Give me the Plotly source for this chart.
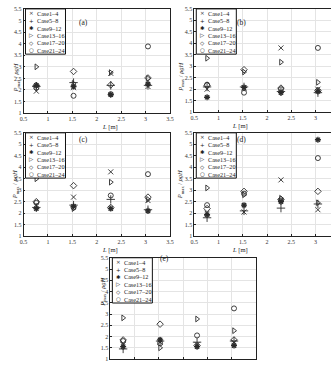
import plotly.graph_objects as go

W, H = 335, 366

L = [0.7625, 1.525, 2.2875, 3.05]
case_names = ["Case1–4", "Case5–8", "Case9–12", "Case13–16", "Case17–20", "Case21–24"]
panel_labels = ["(a)", "(b)", "(c)", "(d)", "(e)"]
y_ticks = [1, 1.5, 2, 2.5, 3, 3.5, 4, 4.5, 5, 5.5]
x_ticks = [0.5, 1, 1.5, 2, 2.5, 3, 3.5]

# P_max / rho g H values, per panel, per case group
a_vals = [
    [1.95, 2.10, 2.72, 2.15],
    [2.15, 2.32, 2.20, 2.20],
    [2.20, 2.15, 1.80, 2.25],
    [3.00, 2.28, 2.75, 2.50],
    [2.20, 2.80, 2.22, 2.52],
    [2.10, 1.75, 1.82, 3.88],
]
b_vals = [
    [2.00, 2.05, 3.80, 2.00],
    [2.10, 2.10, 1.90, 1.85],
    [1.65, 2.08, 1.85, 1.90],
    [3.35, 2.75, 3.18, 2.30],
    [2.17, 2.85, 2.05, 1.95],
    [2.20, 1.85, 2.00, 3.80],
]
c_vals = [
    [2.35, 2.70, 3.80, 2.55],
    [2.25, 2.35, 2.60, 2.15],
    [2.20, 2.30, 2.20, 2.10],
    [3.50, 2.20, 3.35, 2.60],
    [2.50, 3.20, 2.25, 2.70],
    [2.45, 2.25, 2.77, 3.70],
]
d_vals = [
    [2.00, 2.05, 3.45, 2.15],
    [1.80, 2.10, 2.22, 2.40],
    [1.93, 2.35, 2.50, 5.20],
    [3.10, 2.80, 2.65, 2.45],
    [2.20, 2.95, 2.60, 2.95],
    [2.35, 2.85, 2.55, 4.40],
]
e_vals = [
    [1.65, 1.75, 1.65, 1.75],
    [1.45, 1.80, 1.75, 1.80],
    [1.55, 1.85, 1.55, 1.60],
    [2.83, 1.50, 2.78, 2.26],
    [1.85, 2.55, 1.60, 1.85],
    [1.80, 1.70, 2.05, 3.25],
]
panels = [a_vals, b_vals, c_vals, d_vals, e_vals]

symbols = ["x-thin-open", "cross-thin-open", "asterisk-open", "triangle-right-open", "diamond-open", "circle-open"]
legend_glyphs = ["×", "+", "✱", "▷", "◇", "○"]
sizes = [5, 6, 5, 5, 5, 5]
MC = "#2b2b2b"
TC = "#222222"
FONT = "Liberation Serif"

# pixel boxes of each axes: (left, right, top, bottom, xmax)
boxes = [
    (20, 170, 6, 112, 3.5),
    (195, 335, 6, 111, 3.32),
    (20, 170, 132, 237, 3.5),
    (195, 335, 132, 237, 3.32),
    (109, 258, 259, 362, 3.5),
]

def fx(px):
    return px / W

def fy(py):
    return 1 - py / H

fig = go.Figure()
annotations = []
shapes = []

for i, (vals, box) in enumerate(zip(panels, boxes)):
    left, right, top, bottom, xmax = box
    n = "" if i == 0 else str(i + 1)
    xa, ya = "x" + n, "y" + n
    last = (i == 4)
    for k in range(6):
        fig.add_trace(go.Scatter(
            x=L, y=vals[k], mode="markers", name=case_names[k], showlegend=False,
            xaxis=xa, yaxis=ya,
            marker=dict(symbol=symbols[k], size=sizes[k], color=MC,
                        line=dict(color=MC, width=0.9 if k != 2 else 1.3)),
        ))
    cut = xmax < 3.5
    axis_common = dict(showline=True, linecolor="#222", linewidth=0.8,
                       showgrid=True, gridcolor="#e4e4e4", gridwidth=0.6,
                       ticks="inside", ticklen=2, tickcolor="#222", tickwidth=0.6,
                       tickfont=dict(family=FONT, size=6, color="#333"), zeroline=False)
    fig.layout["xaxis" + n] = dict(
        domain=[fx(left), fx(right)], range=[0.5, xmax], tickvals=x_ticks,
        ticktext=[("%g" % t) for t in x_ticks], anchor=ya, mirror=True,
        showticklabels=not last, **axis_common)
    fig.layout["yaxis" + n] = dict(
        domain=[fy(bottom), fy(top)], range=[1, 5.5], tickvals=y_ticks,
        ticktext=[("%g" % t) for t in y_ticks], anchor=xa,
        mirror=(not cut), **axis_common)

    # panel label
    annotations.append(dict(x=fx(left + 55), y=fy(top + 7), xref="paper", yref="paper",
                            text=panel_labels[i], showarrow=False,
                            font=dict(family=FONT, size=7.5, color=TC)))
    # axis titles
    if not last:
        xmid = left + 78 if not cut else left + 57
        annotations.append(dict(x=fx(xmid), y=fy(bottom + 14), xref="paper", yref="paper",
                                text="<i>L</i> [m]", showarrow=False, yanchor="middle",
                                font=dict(family=FONT, size=6.5, color=TC)))
    annotations.append(dict(x=fx(left - 14), y=fy((top + bottom) / 2), xref="paper", yref="paper",
                            text="<i>P</i><sub>max</sub> / <i>ρgH</i>", showarrow=False, textangle=-90,
                            font=dict(family=FONT, size=6.5, color=TC)))
    # legend box
    lx0, ly0 = left + 2, top
    shapes.append(dict(type="rect", xref="paper", yref="paper",
                       x0=fx(lx0), x1=fx(lx0 + 41), y0=fy(ly0 + 46), y1=fy(ly0),
                       line=dict(color="#111", width=1), fillcolor="white", layer="above"))
    for k in range(6):
        yy = ly0 + 4.5 + 7.5 * k
        annotations.append(dict(x=fx(lx0 + 6), y=fy(yy), xref="paper", yref="paper",
                                text=legend_glyphs[k], showarrow=False, xanchor="center",
                                yanchor="middle",
                                font=dict(family="DejaVu Sans", size=5.5, color=TC)))
        annotations.append(dict(x=fx(lx0 + 10), y=fy(yy), xref="paper", yref="paper",
                                text=case_names[k], showarrow=False, xanchor="left",
                                yanchor="middle",
                                font=dict(family=FONT, size=6.2, color=TC)))

fig.update_layout(width=W, height=H, margin=dict(l=0, r=0, t=0, b=0),
                  paper_bgcolor="white", plot_bgcolor="white",
                  annotations=annotations, shapes=shapes)

fig.write_html("out.html")
